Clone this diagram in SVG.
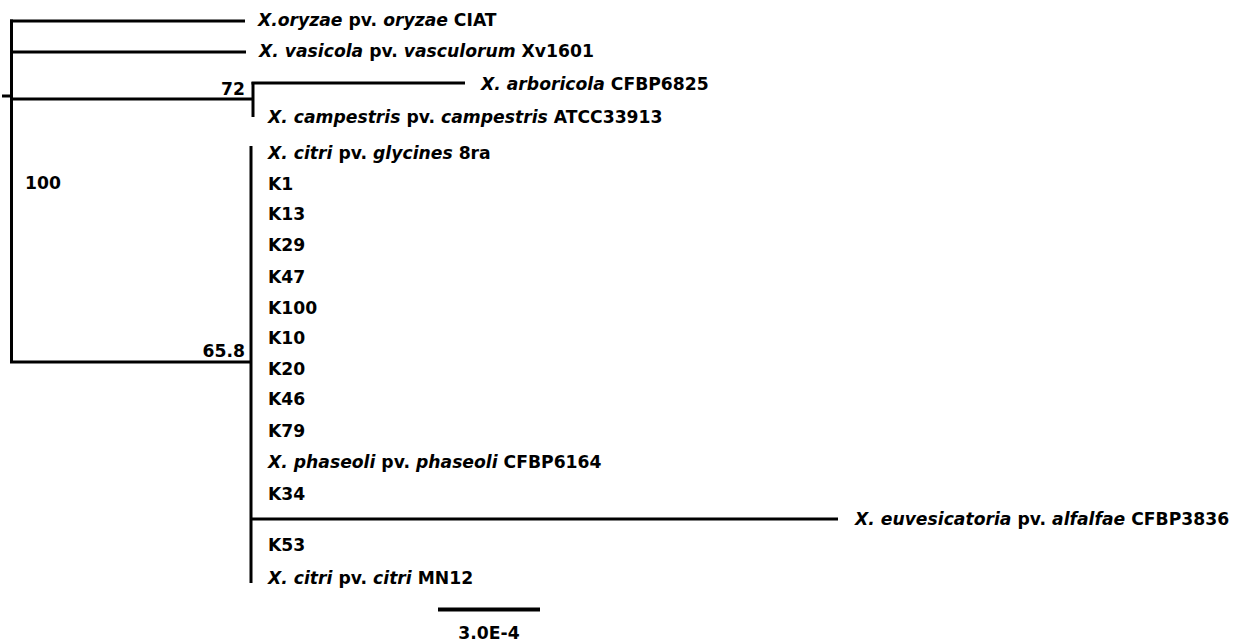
<svg xmlns="http://www.w3.org/2000/svg" width="1241" height="643" viewBox="0 0 1241 643">
<style>
.e{stroke:#000;stroke-width:3;fill:none;stroke-linecap:butt}
text{font-family:"DejaVu Sans","Noto Sans",sans-serif;font-weight:bold;font-size:17.2px;fill:#000}
.i{font-style:italic}
</style>
<rect width="1241" height="643" fill="#fff"/>
<g id="connectors">
<path class="e" d="M2 96H12"/>
<path class="e" d="M11.5 19.5V363"/>
<path class="e" d="M10 21H245"/>
<path class="e" d="M10 52H246"/>
<path class="e" d="M10 99H254"/>
<path class="e" d="M253 82V117"/>
<path class="e" d="M251.5 83H465"/>
<path class="e" d="M10 362H252"/>
<path class="e" d="M251 146V583"/>
<path class="e" d="M251 519H838"/>
<path class="e" d="M438 609.5H540" style="stroke-width:4"/>
</g>
<g id="n-oryzae"><text x="258" y="26"><tspan class="i">X.oryzae</tspan> pv. <tspan class="i">oryzae</tspan> CIAT</text></g>
<g id="n-vasicola"><text x="259" y="57"><tspan class="i">X. vasicola</tspan> pv. <tspan class="i">vasculorum</tspan> Xv1601</text></g>
<g id="n-arboricola"><text x="481" y="90"><tspan class="i">X. arboricola</tspan> CFBP6825</text></g>
<g id="n-campestris"><text x="268" y="123"><tspan class="i">X. campestris</tspan> pv. <tspan class="i">campestris</tspan> ATCC33913</text></g>
<g id="n-glycines"><text x="268" y="159"><tspan class="i">X. citri</tspan> pv. <tspan class="i">glycines</tspan> 8ra</text></g>
<g id="n-K1"><text x="268" y="190">K1</text></g>
<g id="n-K13"><text x="268" y="220">K13</text></g>
<g id="n-K29"><text x="268" y="251">K29</text></g>
<g id="n-K47"><text x="268" y="283">K47</text></g>
<g id="n-K100"><text x="268" y="314">K100</text></g>
<g id="n-K10"><text x="268" y="344">K10</text></g>
<g id="n-K20"><text x="268" y="375">K20</text></g>
<g id="n-K46"><text x="268" y="405">K46</text></g>
<g id="n-K79"><text x="268" y="437">K79</text></g>
<g id="n-phaseoli"><text x="268" y="468"><tspan class="i">X. phaseoli</tspan> pv. <tspan class="i">phaseoli</tspan> CFBP6164</text></g>
<g id="n-K34"><text x="268" y="500">K34</text></g>
<g id="n-euvesicatoria"><text x="855" y="525"><tspan class="i">X. euvesicatoria</tspan> pv. <tspan class="i">alfalfae</tspan> CFBP3836</text></g>
<g id="n-K53"><text x="268" y="551">K53</text></g>
<g id="n-citri"><text x="268" y="584"><tspan class="i">X. citri</tspan> pv. <tspan class="i">citri</tspan> MN12</text></g>
<g id="bootstrap">
<text x="25" y="189">100</text>
<text x="245" y="95" text-anchor="end">72</text>
<text x="245" y="357" text-anchor="end">65.8</text>
</g>
<g id="scale"><text x="489" y="639" text-anchor="middle">3.0E-4</text></g>
</svg>
